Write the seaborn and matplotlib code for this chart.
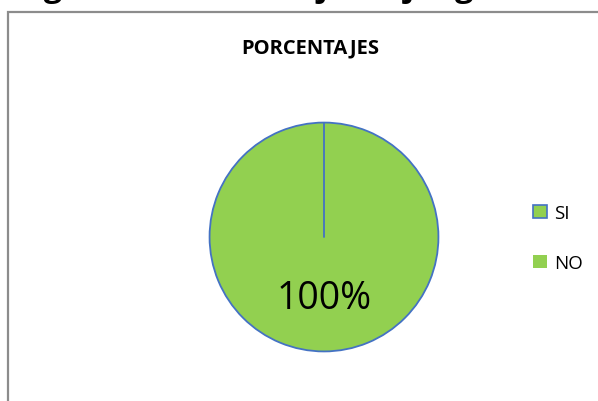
"""
Gráfico de pastel: PORCENTAJES (SI / NO)
Output: out.png
"""

import numpy as np
import matplotlib
matplotlib.use('Agg')
import matplotlib.pyplot as plt
from matplotlib.patches import Patch, Rectangle
import seaborn as sns

sns.set_theme(style="white")
plt.rcParams['font.family'] = ['Open Sans', 'DejaVu Sans']

# Datos
categorias = ['SI', 'NO']
valores = [0, 100]
encabezado = 'Reglas de fútbol Hoja de juego'

verde = '#92D050'
azul = '#4472C4'

fig = plt.figure(figsize=(5.98, 4.02), dpi=100)

# Marco del gráfico (se sale por la derecha y por abajo)
fig.patches.append(Rectangle((8 / 598, -0.1), 1.0, 1 - 13 / 402 + 0.1,
                             transform=fig.transFigure, fill=False,
                             edgecolor='#8c8c8c', linewidth=1.6))

# Texto de encabezado recortado por arriba (como en la captura)
fig.text(0.005, 1 + 4.5 / 402, encabezado, ha='left', va='baseline',
         fontsize=23.5, fontweight='bold', color='black')

fig.text(310 / 598, 1 - 48 / 402, 'PORCENTAJES', ha='center', va='center',
         fontsize=14.5, fontweight='bold', color='black')

ax = fig.add_axes([(324 - 115) / 598, (402 - 238 - 115) / 402, 230 / 598, 230 / 402])

def etiqueta(p):
    return f'{p:.0f}%' if p > 0 else ''

wedges, textos, autotextos = ax.pie(valores, startangle=90, counterclock=False,
                                    colors=[verde, verde], autopct=etiqueta,
                                    pctdistance=0.53,
                                    wedgeprops=dict(edgecolor=azul, linewidth=1.3),
                                    textprops=dict(fontsize=27, color='black'))

# La porción SI (0%) se ve solo como un radio
w = wedges[0]
ang = np.deg2rad(w.theta1)
ax.plot([w.center[0], w.center[0] + w.r * np.cos(ang)],
        [w.center[1], w.center[1] + w.r * np.sin(ang)],
        color=azul, linewidth=1.3)

ax.set_aspect('equal')
ax.set_xlim(-1.005, 1.005)
ax.set_ylim(-1.005, 1.005)
ax.axis('off')

handles = [Patch(facecolor=verde, edgecolor=azul, linewidth=1.2, label=categorias[0]),
           Patch(facecolor=verde, edgecolor='none', label=categorias[1])]
fig.legend(handles=handles, loc='center left', bbox_to_anchor=(524 / 598, 1 - 239 / 402),
           frameon=False, fontsize=13.5, handlelength=0.75, handleheight=0.75,
           handletextpad=0.35, labelspacing=1.7, borderpad=0, labelcolor='black')

plt.savefig('out.png', dpi=100)
plt.close()
print('[OK] out.png')
